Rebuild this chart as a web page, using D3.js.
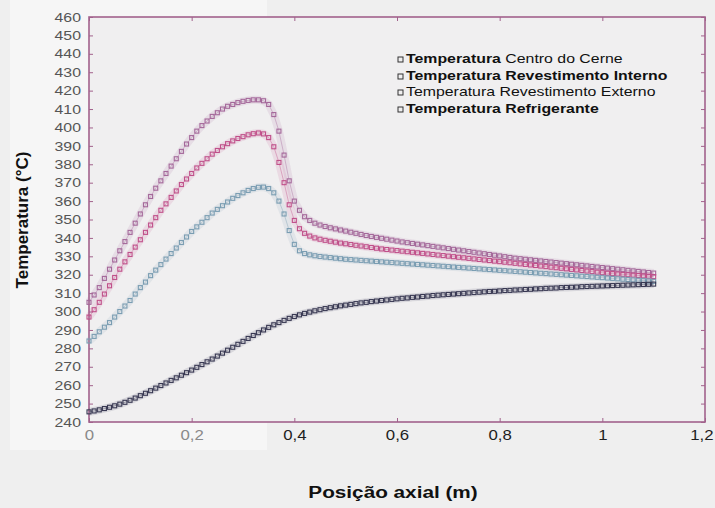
<!DOCTYPE html>
<html>
<head>
<meta charset="utf-8">
<script src="https://cdn.jsdelivr.net/npm/d3@7/dist/d3.min.js"></script>
<style>
  html, body { margin: 0; padding: 0; background: #efefef; }
  svg { display: block; font-family: "Liberation Sans", Arial, sans-serif; }
</style>
</head>
<body>
<svg id="chart" width="715" height="508"></svg>
<script>
// Axial temperature profiles along the fuel rod (°C vs m), one reading every 1 cm.
const axialStep = 0.01;

const centroCerne = [
  305, 309, 313, 318, 323, 328, 333, 338, 343, 348,
  353, 358, 362.5, 367, 371, 375, 379, 383, 387, 391,
  394.5, 398, 401, 403.5, 406, 408, 410, 411.5, 412.5, 413.5,
  414.2, 414.7, 415, 415, 414.5, 412.5, 407, 398, 385, 371,
  360, 355, 351.5, 349.5, 348, 347, 346.2, 345.5, 344.9, 344.3,
  343.7, 343.1, 342.5, 341.9, 341.3, 340.8, 340.3, 339.8, 339.3, 338.8,
  338.3, 337.8, 337.4, 337.0, 336.6, 336.2, 335.8, 335.4, 335.0, 334.6,
  334.2, 333.8, 333.4, 333.0, 332.6, 332.2, 331.8, 331.4, 331.0, 330.6,
  330.2, 329.8, 329.4, 329.0, 328.7, 328.4, 328.1, 327.8, 327.5, 327.2,
  326.9, 326.6, 326.3, 326.0, 325.7, 325.4, 325.1, 324.8, 324.5, 324.2,
  323.9, 323.6, 323.3, 323.0, 322.7, 322.4, 322.1, 321.8, 321.5, 321.2,
  320.9
];

const revestimentoInterno = [
  297, 301, 305, 309.5, 314, 318.5, 323, 327, 331, 335,
  339, 343, 347, 351, 355, 358.5, 362, 365.5, 369, 372,
  375, 378, 380.5, 383, 385.5, 387.5, 389.5, 391.2, 392.7, 394,
  395, 396, 396.6, 397, 396.5, 394.5, 389.5, 381, 370, 358,
  349.5, 345, 342.5, 341, 340, 339.3, 338.7, 338.2, 337.7, 337.2,
  336.8, 336.4, 336.0, 335.6, 335.2, 334.8, 334.4, 334.0, 333.7, 333.4,
  333.1, 332.8, 332.5, 332.2, 331.9, 331.6, 331.3, 331.0, 330.7, 330.4,
  330.1, 329.8, 329.5, 329.2, 328.9, 328.6, 328.3, 328.0, 327.7, 327.4,
  327.1, 326.8, 326.5, 326.2, 325.9, 325.6, 325.3, 325.0, 324.7, 324.4,
  324.1, 323.8, 323.5, 323.2, 322.9, 322.6, 322.3, 322.0, 321.7, 321.4,
  321.1, 320.8, 320.6, 320.4, 320.2, 320.0, 319.8, 319.6, 319.4, 319.2,
  319.0
];

const revestimentoExterno = [
  284, 286.5, 289, 291.5, 294, 297, 300, 303, 306, 309.5,
  313, 316, 319.5, 322.5, 325.5, 328.5, 331.5, 334.5, 337.5, 340.5,
  343.5, 346, 348.5, 351, 353.5, 355.5, 357.5, 359.5, 361.5, 363,
  364.5, 365.8, 366.8, 367.5, 367.6, 366.8, 364.5, 360, 353, 344,
  336.5, 333, 331.5, 330.8, 330.3, 329.9, 329.6, 329.3, 329.0, 328.7,
  328.4, 328.2, 328.0, 327.8, 327.6, 327.4, 327.2, 327.0, 326.8, 326.6,
  326.4, 326.2, 326.0, 325.8, 325.6, 325.4, 325.2, 325.0, 324.8, 324.6,
  324.4, 324.2, 324.0, 323.8, 323.6, 323.4, 323.2, 323.0, 322.8, 322.6,
  322.4, 322.2, 322.0, 321.8, 321.6, 321.4, 321.2, 321.0, 320.8, 320.6,
  320.4, 320.2, 320.0, 319.8, 319.6, 319.4, 319.2, 319.0, 318.8, 318.6,
  318.4, 318.2, 318.0, 317.8, 317.6, 317.4, 317.2, 317.0, 316.8, 316.6,
  316.4
];

const refrigerante = [
  245.5, 246, 246.6, 247.3, 248.0, 248.8, 249.7, 250.7, 251.8, 253.0,
  254.3, 255.6, 257.0, 258.4, 259.8, 261.2, 262.6, 264.0, 265.4, 266.8,
  268.2, 269.7, 271.2, 272.7, 274.2, 275.8, 277.4, 279.0, 280.6, 282.2,
  283.8, 285.4, 287.0, 288.5, 290.0, 291.4, 292.8, 294.0, 295.2, 296.3,
  297.3, 298.2, 299.0, 299.7, 300.4, 301.0, 301.6, 302.1, 302.6, 303.1,
  303.5, 303.9, 304.3, 304.7, 305.0, 305.4, 305.7, 306.0, 306.3, 306.6,
  306.9, 307.2, 307.4, 307.7, 307.9, 308.2, 308.4, 308.7, 308.9, 309.1,
  309.3, 309.5, 309.7, 309.9, 310.1, 310.3, 310.5, 310.7, 310.9, 311.0,
  311.2, 311.4, 311.5, 311.7, 311.8, 312.0, 312.1, 312.3, 312.4, 312.6,
  312.7, 312.8, 313.0, 313.1, 313.2, 313.3, 313.5, 313.6, 313.7, 313.8,
  313.9, 314.0, 314.1, 314.2, 314.3, 314.4, 314.5, 314.6, 314.7, 314.8,
  314.9
];

const seriesNames = [
  "Temperatura Centro do Cerne",
  "Temperatura Revestimento Interno",
  "Temperatura Revestimento Externo",
  "Temperatura Refrigerante"
];
const seriesColors = ["#a4689a", "#c0508a", "#7a9db2", "#383852"];

const xTickValues = [0, 0.2, 0.4, 0.6, 0.8, 1, 1.2];
const xTickLabels = ["0", "0,2", "0,4", "0,6", "0,8", "1", "1,2"];
const yTickValues = [460, 450, 440, 430, 420, 410, 400, 390, 380, 370, 360, 350,
                     340, 330, 320, 310, 300, 290, 280, 270, 260, 250, 240];

const series = [centroCerne, revestimentoInterno, revestimentoExterno, refrigerante]
  .map((vals, k) => ({
    name: seriesNames[k],
    color: seriesColors[k],
    points: vals.map((t, i) => ({ x: +(i * axialStep).toFixed(2), t }))
  }));

// ---- layout ----
const svg = d3.select("#chart");
const plot = { left: 89, right: 705, top: 17, bottom: 422 };
const stretch = 1.22; // text in this figure is set wide

const x = d3.scaleLinear().domain([0, 1.2]).range([plot.left, plot.right]);
const y = d3.scaleLinear().domain([240, 460]).range([plot.bottom, plot.top]);

// light panel behind the value axis
svg.append("rect")
  .attr("x", 10).attr("y", 0).attr("width", 257).attr("height", 450)
  .attr("fill", "#f6f6f6");

// plotting area
svg.append("rect")
  .attr("x", plot.left).attr("y", plot.top)
  .attr("width", plot.right - plot.left).attr("height", plot.bottom - plot.top)
  .attr("fill", "#f0eff0");

const frameColor = "#a2628c";

// y axis (ticks inside the frame)
const yAxis = svg.append("g")
  .attr("transform", `translate(${plot.left},0)`)
  .call(d3.axisLeft(y).tickValues(yTickValues).tickSizeInner(-4).tickSizeOuter(0).tickPadding(8));
yAxis.select(".domain").remove();
yAxis.selectAll(".tick line").attr("stroke", frameColor);
yAxis.selectAll(".tick text")
  .attr("fill", "#555").attr("font-size", 13)
  .attr("transform", `scale(${stretch},1)`)
  .attr("x", -8 / stretch);

// right side ticks
const yRight = svg.append("g")
  .attr("transform", `translate(${plot.right},0)`)
  .call(d3.axisRight(y).tickValues(yTickValues).tickSizeInner(-4).tickSizeOuter(0).tickFormat(""));
yRight.select(".domain").remove();
yRight.selectAll(".tick line").attr("stroke", frameColor);

// x axis
const xStretch = 1.12;
const xAxis = svg.append("g")
  .attr("transform", `translate(0,${plot.bottom})`)
  .call(d3.axisBottom(x).tickValues(xTickValues).tickSizeInner(-4).tickSizeOuter(0).tickPadding(7)
    .tickFormat((d, i) => xTickLabels[i]));
xAxis.select(".domain").remove();
xAxis.selectAll(".tick line").attr("stroke", frameColor);
xAxis.selectAll(".tick text")
  .attr("font-size", 15)
  .attr("transform", `scale(${xStretch},1)`)
  .attr("fill", (d) => (x(d) < 267 ? "#8a8a8a" : "#1e1e1e"));
// keep the last label inside the page: align its right edge just short of the border
xAxis.selectAll(".tick text")
  .filter((d, i, nodes) => i === nodes.length - 1)
  .attr("text-anchor", "end")
  .attr("x", 8 / xStretch);

const xTop = svg.append("g")
  .attr("transform", `translate(0,${plot.top})`)
  .call(d3.axisTop(x).tickValues(xTickValues).tickSizeInner(-4).tickSizeOuter(0).tickFormat(""));
xTop.select(".domain").remove();
xTop.selectAll(".tick line").attr("stroke", frameColor);

// frame
svg.append("rect")
  .attr("x", plot.left).attr("y", plot.top)
  .attr("width", plot.right - plot.left).attr("height", plot.bottom - plot.top)
  .attr("fill", "none").attr("stroke", frameColor).attr("stroke-width", 1.6);

// ---- series ----
const line = d3.line().x(d => x(d.x)).y(d => y(d.t));
const g = svg.append("g");

series.forEach(s => {
  g.append("path").datum(s.points)
    .attr("d", line).attr("fill", "none")
    .attr("stroke", s.color).attr("stroke-width", 8).attr("stroke-opacity", 0.13);
  g.append("path").datum(s.points)
    .attr("d", line).attr("fill", "none")
    .attr("stroke", s.color).attr("stroke-width", 0.8).attr("stroke-opacity", 0.5);
  g.selectAll(null).data(s.points).enter().append("rect")
    .attr("x", d => x(d.x) - 2).attr("y", d => y(d.t) - 2)
    .attr("width", 4).attr("height", 4)
    .attr("fill", "none").attr("stroke", s.color).attr("stroke-width", 1.1);
});

// ---- legend ----
const legend = svg.append("g").attr("transform", "translate(398,0)");
const legendRows = [
  { parts: [["Temperatura", 700], [" Centro do Cerne", 400]], y: 63 },
  { parts: [["Temperatura Revestimento Interno", 700]], y: 80 },
  { parts: [["Temperatura Revestimento Externo", 400]], y: 96 },
  { parts: [["Temperatura Refrigerante", 700]], y: 113 }
];
legendRows.forEach(row => {
  legend.append("rect")
    .attr("x", 0).attr("y", row.y - 6).attr("width", 5).attr("height", 5)
    .attr("fill", "none").attr("stroke", "#333").attr("stroke-width", 1);
  const t = legend.append("text")
    .attr("transform", `translate(8,${row.y}) scale(${stretch},1)`)
    .attr("font-size", 13).attr("fill", "#111");
  row.parts.forEach(p => t.append("tspan").attr("font-weight", p[1]).text(p[0]));
});

// ---- axis titles ----
svg.append("text")
  .attr("transform", `translate(393,498) scale(${stretch},1)`)
  .attr("text-anchor", "middle").attr("font-size", 17).attr("font-weight", 700)
  .attr("fill", "#111")
  .text("Posição axial (m)");

svg.append("text")
  .attr("transform", "translate(28,220) rotate(-90)")
  .attr("text-anchor", "middle").attr("font-size", 17).attr("font-weight", 700)
  .attr("fill", "#111")
  .text("Temperatura (°C)");
</script>
</body>
</html>
